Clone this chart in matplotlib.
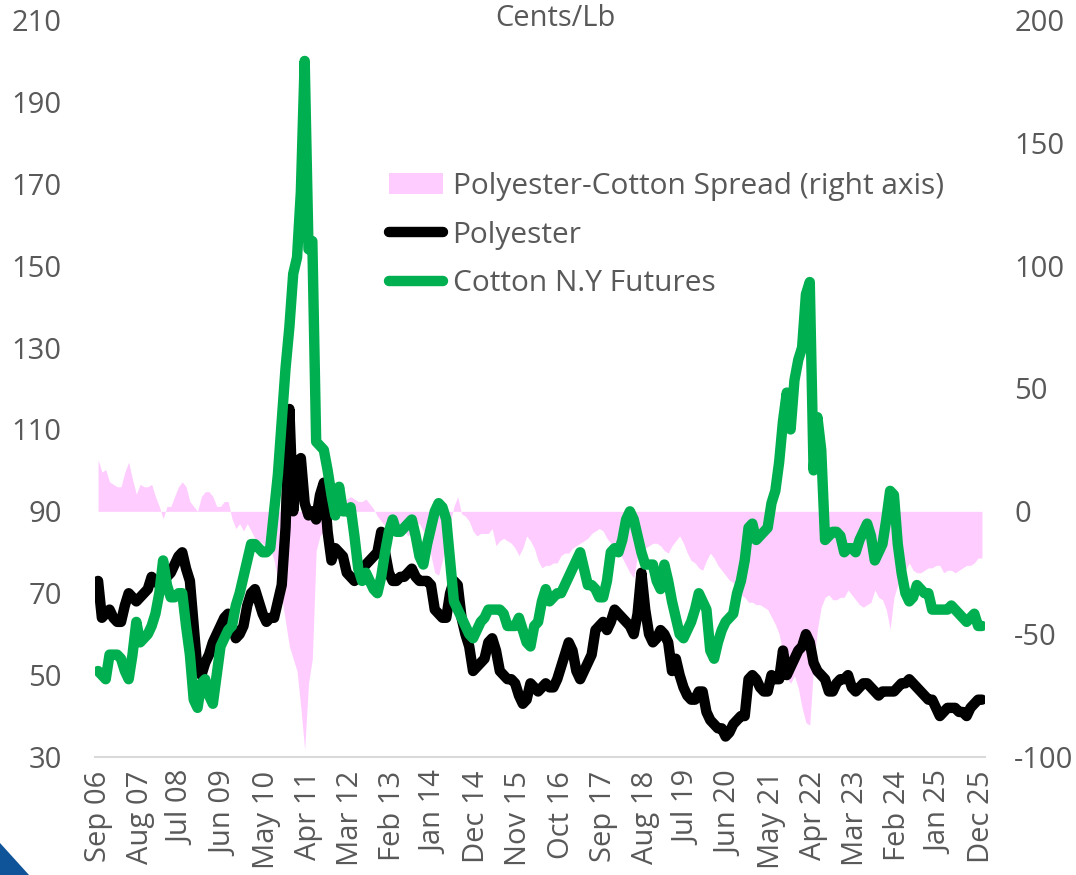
import numpy as np
import matplotlib
matplotlib.use("Agg")
import matplotlib.pyplot as plt
from matplotlib.lines import Line2D
from matplotlib.patches import Patch, Polygon

plt.rcParams["font.family"] = ["Open Sans", "DejaVu Sans"]
plt.rcParams["axes.unicode_minus"] = False

# monthly values, Sep 2006 .. Dec 2025 (one row per Sep..Aug year)
cotton = [
    51, 50, 49, 55, 55, 55, 54, 51, 49, 55, 63, 58,
    59, 60, 62, 65, 70, 78, 72, 69, 69, 70, 70, 62,
    55, 44, 42, 48, 49, 45, 43, 50, 57, 59, 61, 62,
    67, 70, 74, 78, 82, 82, 81, 80, 80, 81, 90, 99,
    112, 125, 135, 148, 152, 168, 200, 154, 156, 107, 106, 105,
    100, 94, 89, 96, 90, 90, 91, 84, 76, 73, 75, 73,
    71, 70, 74, 80, 85, 88, 85, 85, 86, 87, 88, 84,
    79, 77, 82, 86, 90, 92, 91, 88, 78, 68, 66, 64,
    62, 60, 59, 61, 63, 64, 66, 66, 66, 66, 65, 62,
    62, 62, 64, 61, 58, 57, 62, 63, 68, 71, 68, 69,
    70, 70, 72, 74, 76, 78, 80, 76, 72, 72, 71, 69,
    69, 73, 80, 81, 80, 83, 88, 90, 88, 84, 80, 77,
    77, 77, 73, 71, 77, 73, 68, 64, 60, 59, 61, 63,
    66, 70, 68, 66, 56, 54, 58, 61, 63, 64, 65, 70,
    73, 78, 86, 87, 83, 84, 85, 86, 92, 95, 102, 112,
    119, 110, 122, 127, 130, 143, 146, 100, 113, 105, 83, 84,
    85, 85, 84, 80, 81, 81, 80, 83, 85, 87, 84, 78,
    80, 82, 88, 95, 94, 82, 75, 70, 68, 69, 72, 71,
    70, 70, 66, 66, 66, 66, 66, 67, 66, 65, 64, 63,
    64, 65, 62, 62,
]

polyester = [
    73, 64, 65, 66, 64, 63, 63, 67, 70, 69, 68, 69,
    70, 71, 74, 73, 72, 74, 74, 75, 77, 79, 80, 76,
    73, 62, 51, 50, 53, 55, 58, 60, 62, 64, 65, 62,
    59, 60, 62, 67, 70, 71, 68, 65, 63, 64, 64, 68,
    72, 86, 115, 90, 102, 103, 92, 89, 90, 88, 94, 97,
    85, 78, 81, 80, 79, 75, 74, 73, 74, 76, 77, 78,
    79, 80, 85, 80, 75, 73, 73, 74, 74, 75, 76, 74,
    73, 73, 73, 72, 66, 65, 64, 64, 70, 73, 72, 64,
    60, 57, 51, 52, 53, 54, 58, 59, 56, 51, 50, 49,
    49, 48, 45, 43, 44, 48, 47, 46, 47, 48, 47, 47,
    49, 52, 55, 58, 56, 51, 49, 51, 53, 55, 61, 62,
    63, 61, 63, 66, 65, 64, 63, 62, 60, 65, 75, 66,
    60, 58, 59, 61, 60, 58, 51, 54, 50, 47, 45, 44,
    44, 46, 46, 41, 39, 38, 37, 37, 35, 36, 38, 39,
    40, 40, 49, 50, 49, 47, 46, 46, 50, 49, 49, 56,
    50, 52, 54, 56, 57, 60, 58, 53, 51, 50, 49, 46,
    46, 48, 49, 49, 50, 47, 46, 47, 48, 48, 47, 46,
    45, 46, 46, 46, 46, 47, 48, 48, 49, 48, 47, 46,
    45, 44, 44, 42, 40, 41, 42, 42, 42, 41, 41, 40,
    42, 43, 44, 44,
]

spread = [
    21, 16, 17, 12, 11, 10, 10, 16, 20, 13, 7, 11,
    10, 10, 11, 6, 2, -3, 2, 2, 6, 10, 12, 10,
    4, 2, 0, 6, 8, 8, 6, 2, 2, 4, 4, -3,
    -7, -5, -8, -5, -8, -11, -12, -13, -15, -15, -20, -28,
    -35, -45, -55, -60, -65, -80, -97, -70, -60, -16, -10, -8,
    0, 1, 2, 3, 4, 5, 6, 5, 4, 4, 5, 3,
    1, -2, -4, -6, -8, -8, -7, -6, -8, -10, -8, -5,
    -5, -8, -10, -18, -25, -26, -20, -12, -5, 2, 6, -1,
    -2, -4, -8, -10, -9, -9, -9, -7, -14, -12, -11, -12,
    -13, -15, -18, -15, -10, -12, -15, -20, -23, -22, -22, -21,
    -21, -18, -17, -17, -15, -14, -13, -12, -11, -9, -8, -7,
    -8, -11, -13, -15, -16, -19, -22, -25, -27, -18, -14, -15,
    -14, -13, -13, -14, -16, -17, -14, -12, -10, -13, -17, -20,
    -21, -23, -24, -20, -17, -19, -22, -24, -26, -28, -29, -31,
    -34, -35, -37, -37, -38, -38, -39, -40, -43, -46, -50, -58,
    -68, -70, -67, -72, -80, -86, -87, -63, -48, -39, -35, -34,
    -36, -36, -35, -35, -32, -34, -36, -38, -39, -38, -37, -32,
    -35, -36, -40, -48, -35, -30, -27, -24, -21, -24, -25, -25,
    -24, -23, -23, -22, -22, -25, -24, -24, -25, -24, -23, -22,
    -22, -21, -19, -19,
]

tick_labels = ["Sep 06", "Aug 07", "Jul 08", "Jun 09", "May 10", "Apr 11",
               "Mar 12", "Feb 13", "Jan 14", "Dec 14", "Nov 15", "Oct 16",
               "Sep 17", "Aug 18", "Jul 19", "Jun 20", "May 21", "Apr 22",
               "Mar 23", "Feb 24", "Jan 25", "Dec 25"]

GREEN = "#00B050"
PINK = "#FFCCFF"
GREY = "#595959"
FS = 21
LW = 7.5

x = np.arange(len(cotton))

fig = plt.figure(figsize=(10.76, 8.75), dpi=100)
fig.patch.set_facecolor("white")
ax = fig.add_axes([95 / 1076, 1 - 757 / 875, 890 / 1076, 737 / 875])
ax_r = ax.twinx()
ax.set_zorder(ax_r.get_zorder() + 1)
ax.patch.set_visible(False)

ax_r.fill_between(x, 0, spread, color=PINK, lw=0)
ax.plot(x, polyester, color="black", lw=LW, solid_capstyle="round", solid_joinstyle="round")
ax.plot(x, cotton, color=GREEN, lw=LW, solid_capstyle="round", solid_joinstyle="round")

ax.set_xlim(-0.8, 231.8)
ax.set_ylim(30, 210)
ax_r.set_ylim(-100, 200)
ax.set_yticks(np.arange(30, 211, 20))
ax_r.set_yticks(np.arange(-100, 201, 50))
ax.set_xticks(np.arange(0, 232, 11))
ax.set_xticklabels(tick_labels, rotation=90)

for a in (ax, ax_r):
    for s in a.spines.values():
        s.set_visible(False)
    a.tick_params(length=0, labelsize=FS, labelcolor=GREY)
ax.tick_params(axis="y", pad=24)
ax.tick_params(axis="x", pad=10)
ax_r.tick_params(axis="y", pad=21)
ax.spines["bottom"].set_visible(True)
ax.spines["bottom"].set_color("#D9D9D9")
ax.spines["bottom"].set_linewidth(1.5)

fig.text(555 / 1076, 1 - 18 / 875, "Cents/Lb", ha="center", va="center",
         fontsize=FS, color=GREY)

handles = [
    Patch(facecolor=PINK, edgecolor="none"),
    Line2D([], [], color="black", lw=LW, solid_capstyle="round"),
    Line2D([], [], color=GREEN, lw=LW, solid_capstyle="round"),
]
labels = ["Polyester-Cotton Spread (right axis)", "Polyester", "Cotton N.Y Futures"]
leg = ax.legend(handles, labels, loc="upper left", bbox_to_anchor=(389 / 1076, 1 - 172 / 875),
                bbox_transform=fig.transFigure, frameon=False, fontsize=21.5,
                handlelength=1.8, handletextpad=0.33, labelspacing=0.66,
                borderpad=0, borderaxespad=0)
for t in leg.get_texts():
    t.set_color(GREY)

fig.add_artist(Polygon([[0, 1 - 843 / 875], [29 / 1076, 0], [0, 0]], closed=True,
                       transform=fig.transFigure, facecolor="#0F5499", edgecolor="none"))

fig.savefig("out.png", dpi=100)
